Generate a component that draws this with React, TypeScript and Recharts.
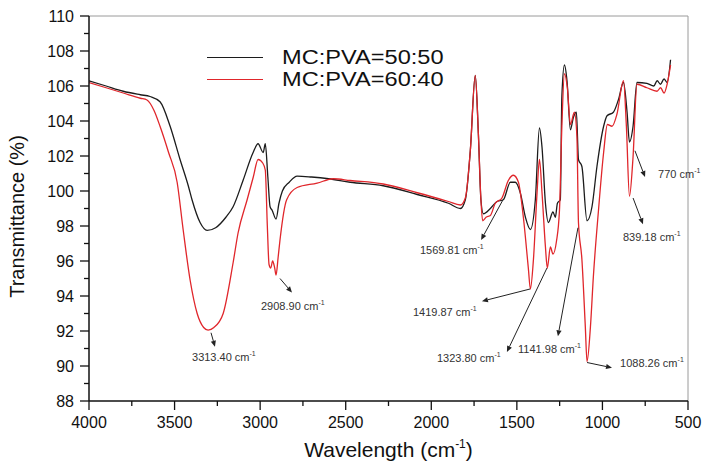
import React from "react";
import { LineChart, Line, XAxis, YAxis, ReferenceLine, ReferenceDot, Legend } from "recharts";

// FTIR spectra (wavenumber cm-1 -> transmittance %)
const wn5050 = [
  4000, 3900, 3800, 3700, 3643, 3585, 3526, 3468, 3420, 3398, 3351, 3310, 3260, 3200, 3158, 3100, 3041, 3012,
  2982, 2970, 2955, 2942, 2930, 2907, 2890, 2870, 2830, 2784, 2700, 2600, 2474, 2281, 2082, 1900, 1830, 1801,
  1772, 1743, 1725, 1710, 1696, 1655, 1616, 1579, 1538, 1509, 1480, 1450, 1421, 1392, 1368, 1353, 1333, 1316,
  1289, 1275, 1263, 1246, 1237, 1222, 1207, 1187, 1170, 1152, 1140, 1120, 1090, 1061, 1032, 993, 973, 936, 907,
  877, 856, 842, 821, 798, 740, 700, 680, 661, 640, 622, 602,
];
const t5050 = [
  106.3, 106.0, 105.7, 105.5, 105.4, 105.1, 103.7, 101.8, 100.3, 99.5, 98.2, 97.75, 97.9, 98.5, 99.1, 100.6, 102.2, 102.7,
  102.2, 102.7, 100.8, 99.1, 98.9, 98.4, 99.3, 100.0, 100.5, 100.85, 100.8, 100.7, 100.5, 100.3, 99.8, 99.3, 99.0, 99.5,
  102.3, 106.6, 103.3, 99.5, 98.7, 99.0, 99.4, 99.5, 100.5, 100.5, 99.9, 98.5, 97.8, 99.5, 103.6, 102.5, 99.3, 98.2,
  98.8, 98.5, 99.3, 99.5, 105.4, 107.2, 106.3, 103.5, 104.2, 104.5, 101.8, 101.4, 98.3, 99.1, 101.4, 103.7, 104.3, 104.5, 105.2,
  106.2, 104.5, 102.8, 103.7, 106.2, 106.15, 106.0, 106.3, 106.1, 106.4, 106.2, 107.5,
];

const wn6040 = [
  4000, 3900, 3800, 3700, 3661, 3620, 3585, 3535, 3485, 3450, 3409, 3368, 3330, 3304, 3270, 3216, 3158, 3129,
  3076, 3040, 3012, 2985, 2970, 2958, 2948, 2938, 2927, 2915, 2907, 2895, 2884, 2845, 2784, 2667, 2573, 2474,
  2281, 2082, 1900, 1830, 1801, 1772, 1743, 1725, 1710, 1700, 1680, 1655, 1626, 1587, 1550, 1520, 1491, 1462,
  1433, 1421, 1403, 1382, 1368, 1353, 1333, 1322, 1304, 1289, 1269, 1251, 1237, 1222, 1205, 1187, 1164, 1149,
  1140, 1120, 1100, 1090, 1070, 1053, 1023, 993, 971, 944, 915, 877, 860, 842, 822, 798, 740, 681, 660, 640,
  622, 602,
];
const t6040 = [
  106.2, 105.9, 105.6, 105.3, 105.2, 104.6, 103.7, 102.2, 100.5, 97.8, 94.9, 93.0, 92.2, 92.05, 92.2, 93.0, 95.9, 97.6,
  99.5, 100.8, 101.8, 101.6, 101.2, 98.0, 95.8, 95.6, 96.0, 95.6, 95.2, 96.2, 97.2, 99.5, 100.2, 100.45, 100.7, 100.6,
  100.4, 99.9, 99.4, 99.2, 99.6, 102.3, 106.6, 103.3, 99.5, 98.3, 98.5, 98.6, 99.3, 99.6, 100.6, 100.9, 100.5, 98.5,
  95.6, 94.4, 96.1, 99.9, 101.8, 99.9, 96.8, 95.6, 96.8, 96.4, 97.1, 98.9, 103.7, 106.7, 105.9, 103.8, 104.5, 103.1,
  98.2, 96.1, 92.25, 90.25, 92.25, 95.1, 98.9, 102.2, 103.8, 103.7, 104.4, 106.3, 103.7, 99.7, 101.8, 106.1, 105.9, 105.7, 105.9, 105.6,
  106.1, 107.2,
];

const seriesNames = ["MC:PVA=50:50", "MC:PVA=60:40"];
const seriesColors = ["#1c1c1c", "#e0262b"];

const xTicks = [500, 750, 1000, 1250, 1500, 1750, 2000, 2250, 2500, 2750, 3000, 3250, 3500, 3750, 4000];
const yTicks = [88, 89, 90, 91, 92, 93, 94, 95, 96, 97, 98, 99, 100, 101, 102, 103, 104, 105, 106, 107, 108, 109, 110];

// peak labels: text anchor (wn, T) and arrow from -> to, in data units
const peakLabels = ["3313.40", "2908.90", "1569.81", "1419.87", "1323.80", "1141.98", "1088.26", "839.18", "770"];
const labelWn = [3398, 2995, 2066, 2107, 1967, 1493, 897, 880, 675];
const labelT = [90.5, 93.4, 96.6, 93.1, 90.45, 90.95, 90.15, 97.35, 100.95];
const arrowFrom = [[3287, 91.9], [2884, 95.0], [1581, 99.5], [1423, 94.4], [1324, 95.6], [1143, 97.9], [1090, 90.2], [821, 99.6], [810, 102.3]];
const arrowTo = [[3264, 91.1], [2814, 94.2], [1709, 97.2], [1704, 93.7], [1558, 90.8], [1260, 91.7], [944, 89.9], [763, 98.1], [751, 100.8]];

const FONT = '"Liberation Sans", Arial, sans-serif';

const toPoints = (wn: number[], t: number[]) => wn.map((w, i) => ({ wn: w, t: t[i] }));
const data5050 = toPoints(wn5050, t5050);
const data6040 = toPoints(wn6040, t6040);

const XTick = (props: any) => {
  const { x, y, payload } = props;
  const major = payload.value % 500 === 0;
  return (
    <g>
      <line x1={x} y1={y} x2={x} y2={y + (major ? 9 : 5)} stroke="#111" strokeWidth={1.3} />
      {major && (
        <text x={x} y={y + 27} textAnchor="middle" fontSize={16} fill="#111" fontFamily={FONT}>
          {payload.value}
        </text>
      )}
    </g>
  );
};

const YTick = (props: any) => {
  const { x, y, payload } = props;
  const major = payload.value % 2 === 0;
  return (
    <g>
      <line x1={x} y1={y} x2={x - (major ? 9 : 5)} y2={y} stroke="#111" strokeWidth={1.3} />
      {major && (
        <text x={x - 15} y={y} dy="0.36em" textAnchor="end" fontSize={16} fill="#111" fontFamily={FONT}>
          {payload.value}
        </text>
      )}
    </g>
  );
};

const Arrow = (props: any) => {
  const { x1, y1, x2, y2 } = props;
  const a = Math.atan2(y2 - y1, x2 - x1);
  const L = 6;
  const W = 2.6;
  const bx = x2 - L * Math.cos(a);
  const by = y2 - L * Math.sin(a);
  const pts = `${x2},${y2} ${bx + W * Math.sin(a)},${by - W * Math.cos(a)} ${bx - W * Math.sin(a)},${by + W * Math.cos(a)}`;
  return (
    <g>
      <line x1={x1} y1={y1} x2={bx} y2={by} stroke="#222" strokeWidth={1} />
      <polygon points={pts} fill="#222" />
    </g>
  );
};

const renderLegend = () => (
  <div style={{ fontFamily: FONT }}>
    {seriesNames.map((n, i) => (
      <div key={n} style={{ display: "flex", alignItems: "center", height: 22 }}>
        <div style={{ width: 56, height: 0, borderTop: `1.5px solid ${seriesColors[i]}` }} />
        <div
          style={{
            marginLeft: 19,
            fontSize: 20,
            color: "#111",
            lineHeight: "22px",
            transform: "scaleX(1.18)",
            transformOrigin: "left center",
            whiteSpace: "nowrap",
          }}
        >
          {n}
        </div>
      </div>
    ))}
  </div>
);

export default function App() {
  return (
    <div style={{ position: "absolute", left: 0, top: 0, width: 702, height: 465, background: "#fff" }}>
      <LineChart width={702} height={465} margin={{ top: 16, right: 14, bottom: 24, left: 29 }}>
        <XAxis
          dataKey="wn"
          type="number"
          domain={[500, 4000]}
          reversed
          ticks={xTicks}
          interval={0}
          tickSize={0}
          tickMargin={0}
          tickLine={false}
          tick={<XTick />}
          height={40}
          stroke="#111"
          strokeWidth={1.5}
          allowDataOverflow
          label={{
            content: (p: any) => {
              const vb = p.viewBox;
              return (
                <text x={vb.x + vb.width / 2} y={vb.y + 56} textAnchor="middle" fontSize={21} fill="#111" fontFamily={FONT}>
                  Wavelength (cm
                  <tspan fontSize={12} dy={-9}>-1</tspan>
                  <tspan dy={9}>)</tspan>
                </text>
              );
            },
          }}
        />
        <YAxis
          type="number"
          domain={[88, 110]}
          ticks={yTicks}
          interval={0}
          tickSize={0}
          tickMargin={0}
          tickLine={false}
          tick={<YTick />}
          width={60}
          stroke="#111"
          strokeWidth={1.5}
          allowDataOverflow
          label={{
            content: (p: any) => {
              const vb = p.viewBox;
              const cx = vb.x - 5;
              const cy = vb.y + vb.height / 2 + 8;
              return (
                <text
                  x={cx}
                  y={cy}
                  transform={`rotate(-90 ${cx} ${cy})`}
                  textAnchor="middle"
                  fontSize={20}
                  fill="#111"
                  fontFamily={FONT}
                >
                  Transmittance (%)
                </text>
              );
            },
          }}
        />
        <ReferenceLine y={110} stroke="#9a9a9a" strokeWidth={1} />
        <ReferenceLine x={500} stroke="#9a9a9a" strokeWidth={1} />
        <Legend
          layout="horizontal"
          verticalAlign="middle"
          align="center"
          content={renderLegend}
          wrapperStyle={{ position: "absolute", left: 207, top: 46, width: 280, height: 44 }}
        />
        <Line
          data={data5050}
          dataKey="t"
          name={seriesNames[0]}
          type="monotone"
          stroke={seriesColors[0]}
          strokeWidth={1.3}
          dot={false}
          isAnimationActive={false}
        />
        <Line
          data={data6040}
          dataKey="t"
          name={seriesNames[1]}
          type="monotone"
          stroke={seriesColors[1]}
          strokeWidth={1.3}
          dot={false}
          isAnimationActive={false}
        />
        {peakLabels.map((lab, i) => (
          <ReferenceLine
            key={`arrow-${lab}`}
            segment={[
              { x: arrowFrom[i][0], y: arrowFrom[i][1] },
              { x: arrowTo[i][0], y: arrowTo[i][1] },
            ]}
            ifOverflow="visible"
            shape={(p: any) => <Arrow {...p} />}
          />
        ))}
        {peakLabels.map((lab, i) => (
          <ReferenceDot
            key={`label-${lab}`}
            x={labelWn[i]}
            y={labelT[i]}
            r={0}
            ifOverflow="visible"
            shape={(p: any) => (
              <text x={p.cx} y={p.cy} dy="0.35em" fontSize={11} fill="#333" fontFamily={FONT}>
                {lab} cm
                <tspan fontSize={7} dy={-5}>-1</tspan>
              </text>
            )}
          />
        ))}
      </LineChart>
    </div>
  );
}
